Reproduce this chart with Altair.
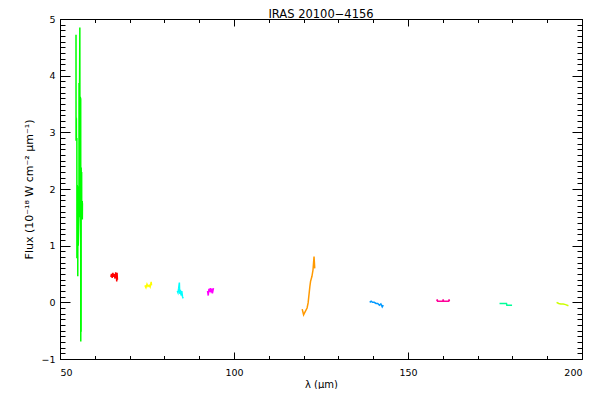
import altair as alt
import pandas as pd

# ---------------- data ----------------
title_text = "IRAS 20100\u22124156"
x_title = "\u03bb (\u00b5m)"
y_title = "Flux (10\u207b\u00b9\u2078 W cm\u207b\u00b2 \u00b5m\u207b\u00b9)"

series_names = ["PACS B2A", "PACS B3A", "PACS B2B", "PACS R1a", "PACS R1b",
                "PACS R1c", "PACS R1d", "PACS R1e", "SPIRE a", "SPIRE b", "SPIRE c"]
series_colors = ["#00ff00", "#ff0000", "#ffff00", "#00ffff", "#ff00ff",
                 "#ff9900", "#0099ff", "#ff0099", "#00ff99", "#ccff00", "#999999"]

green_lam = [54.60, 54.61, 54.63, 54.66, 54.70, 54.72, 54.85, 54.86, 54.88,
             54.95, 54.96, 54.98, 55.10, 55.11, 55.13, 55.20, 55.22, 55.24,
             55.45, 55.47, 55.49, 55.55, 55.57, 55.70, 55.72, 55.74, 55.85,
             55.87, 55.95, 55.97, 55.99, 56.05, 56.07, 56.09, 56.20, 56.22,
             56.24, 56.40, 56.42, 56.44]
green_flux = [4.72, 2.85, 3.27, 2.90, 3.25, 2.87, 2.90, 0.78, 2.05,
              1.00, 2.07, 0.80, 2.05, 0.46, 1.90, 1.10, 1.90, 1.00,
              1.50, 3.87, 3.30, 3.85, 3.05, 4.85, 3.05, 3.60, 3.63,
              1.50, 3.60, -0.69, 0.50, 2.00, -0.52, 2.38, 1.50, 2.30,
              1.46, 1.79, 1.46, 1.75]

red_lam = [64.6, 64.8, 65.0, 65.2, 65.4, 65.6, 65.8, 66.0, 66.2, 66.3, 66.4, 66.5]
red_flux = [0.45, 0.50, 0.43, 0.52, 0.45, 0.50, 0.42, 0.53, 0.47, 0.37, 0.52, 0.40]

yellow_lam = [74.4, 74.7, 75.0, 75.3, 75.6, 75.9, 76.2, 76.3]
yellow_flux = [0.30, 0.26, 0.32, 0.28, 0.30, 0.27, 0.36, 0.30]

cyan_lam = [83.7, 83.9, 84.1, 84.3, 84.4, 84.6, 84.8, 85.0, 85.2, 85.4]
cyan_flux = [0.20, 0.17, 0.25, 0.35, 0.15, 0.22, 0.12, 0.20, 0.10, 0.07]

magenta_lam = [92.4, 92.6, 92.8, 93.0, 93.2, 93.4, 93.6, 93.8, 94.1]
magenta_flux = [0.20, 0.12, 0.24, 0.18, 0.25, 0.20, 0.24, 0.16, 0.25]

orange_lam = [119.6, 120.0, 120.5, 121.0, 121.3, 121.8, 122.0, 122.4, 122.7, 123.0, 123.2]
orange_flux = [-0.12, -0.22, -0.16, -0.10, -0.01, 0.28, 0.37, 0.46, 0.57, 0.81, 0.60]

blue_lam = [139.0, 139.4, 139.8, 140.3, 140.8, 141.3, 141.8, 142.2, 142.6, 142.9]
blue_flux = [0.00, 0.02, 0.00, 0.00, -0.02, -0.02, -0.05, -0.03, -0.08, -0.05]

pink_lam = [158.3, 158.4, 158.5, 160.0, 160.1, 160.2, 161.7, 161.8, 161.9]
pink_flux = [0.02, 0.05, 0.02, 0.02, 0.05, 0.02, 0.02, 0.05, 0.02]

spring_lam = [176.3, 178.3, 178.4, 179.9]
spring_flux = [-0.02, -0.02, -0.05, -0.05]

ygreen_lam = [192.7, 193.3, 193.9, 194.6, 195.3, 196.1]
ygreen_flux = [0.00, -0.02, -0.03, -0.03, -0.04, -0.06]

x_major = [50, 100, 150, 200]
x_minor = list(range(50, 201, 10))
y_major = [-1, 0, 1, 2, 3, 4, 5]
y_minor = [round(-1 + 0.1 * i, 1) for i in range(61)]

# ---------------- table ----------------
segments = [
    (green_lam, green_flux), (red_lam, red_flux), (yellow_lam, yellow_flux),
    (cyan_lam, cyan_flux), (magenta_lam, magenta_flux), (orange_lam, orange_flux),
    (blue_lam, blue_flux), (pink_lam, pink_flux), (spring_lam, spring_flux),
    (ygreen_lam, ygreen_flux),
]
rows = []
for name, (lams, fluxes) in zip(series_names, segments):
    for i, (l, f) in enumerate(zip(lams, fluxes)):
        rows.append({"lam": l, "flux": f, "series": name, "idx": i})
df = pd.DataFrame(rows)

FONT = "DejaVu Sans"
xs = alt.Scale(domain=[50, 200], nice=False, zero=False)
ys = alt.Scale(domain=[-1, 5], nice=False, zero=False)

line = alt.Chart(df).mark_line(strokeWidth=1.5, clip=True).encode(
    x=alt.X("lam:Q", scale=xs,
            axis=alt.Axis(values=x_major, title=x_title, ticks=False, domain=False,
                          grid=False, labelPadding=8, format="d", labelFont=FONT,
                          labelFontSize=9.5, labelColor="black", titleFont=FONT,
                          titleFontSize=10, titleFontWeight="normal",
                          titleColor="black", titlePadding=3)),
    y=alt.Y("flux:Q", scale=ys,
            axis=alt.Axis(values=y_major, title=y_title, ticks=False, domain=False,
                          grid=False, labelPadding=5, format="d", labelFont=FONT,
                          labelFontSize=9.5, labelColor="black", titleFont=FONT,
                          titleFontSize=11, titleFontWeight="normal",
                          titleColor="black", titlePadding=6)),
    color=alt.Color("series:N", scale=alt.Scale(domain=series_names, range=series_colors),
                    legend=None),
    order="idx:Q",
)


def tick_layer(x_orient, y_orient, xvals, yvals, xlen, ylen):
    return alt.Chart(df).mark_point(opacity=0).encode(
        x=alt.X("lam:Q", scale=xs,
                axis=alt.Axis(orient=x_orient, values=xvals, tickSize=xlen, offset=-xlen,
                              labels=False, domain=False, grid=False, title=None,
                              tickColor="black", tickWidth=1)),
        y=alt.Y("flux:Q", scale=ys,
                axis=alt.Axis(orient=y_orient, values=yvals, tickSize=ylen, offset=-ylen,
                              labels=False, domain=False, grid=False, title=None,
                              tickColor="black", tickWidth=1)),
    )


layers = [
    line,
    tick_layer("bottom", "left", x_major, y_major, 7, 10),
    tick_layer("bottom", "left", x_minor, y_minor, 3.5, 5),
    tick_layer("top", "right", x_major, y_major, 7, 10),
    tick_layer("top", "right", x_minor, y_minor, 3.5, 5),
]

chart = alt.layer(*layers).resolve_axis(x="independent", y="independent").properties(
    width=522,
    height=340,
    padding={"left": 52, "top": 11, "right": 8, "bottom": 30},
    autosize=alt.AutoSizeParams(type="none"),
    title=alt.Title(title_text, font=FONT, fontSize=11.5, fontWeight="normal",
                    color="black", anchor="middle", offset=3, dy=9),
).configure_view(stroke="black", strokeWidth=1)

chart.save("out.html", embed_options={"renderer": "svg", "actions": False})
